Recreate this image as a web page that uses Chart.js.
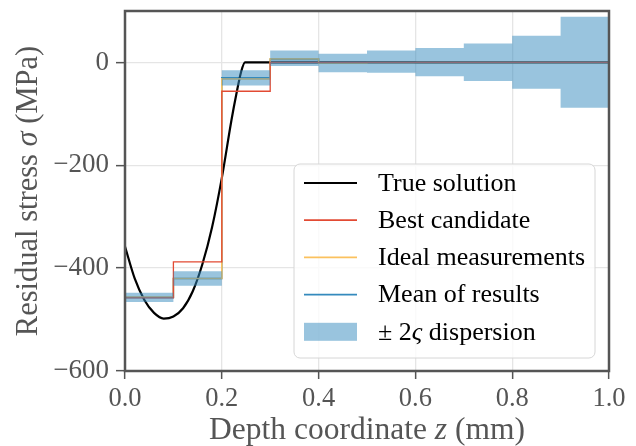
<!DOCTYPE html>
<html>
<head>
<meta charset="utf-8">
<script src="https://cdn.jsdelivr.net/npm/chart.js@4.4.0/dist/chart.umd.min.js"></script>
<style>
    html, body { margin: 0; padding: 0; background: #fff; }
</style>
</head>
<body>
<canvas id="stressChart" width="636" height="446"></canvas>
<script>
// --- data ---
const layerEdges = [0, 0.1, 0.2, 0.3, 0.4, 0.5, 0.6, 0.7, 0.8, 0.9, 1.0];
const bestCandidate = [-458, -388, -56, 0, 0, 0, 0, 0, 0, 0];
const idealMeasurements = [-456, -420, -32, 7, -1, 0, 0, 0, 0, 0];
const meanResults = [-457, -420, -30, 6, -1, 1, 0, 0, 0, 0];
const dispersionUpper = [-448, -406, -15, 23, 17, 23, 28, 37, 52, 89];
const dispersionLower = [-466, -434, -45, -7, -19, -20, -27, -36, -51, -88];

const trueDepth = [0, 0.02, 0.04, 0.06, 0.08, 0.10, 0.12, 0.14, 0.16, 0.18, 0.20, 0.22, 0.23, 0.24, 0.248, 1.0];
const trueStress = [-358, -420, -462, -487, -498, -494, -478, -445, -392, -320, -225, -112, -62, -18, 0, 0];

const xTicks = [0, 0.2, 0.4, 0.6, 0.8, 1.0];
const yTicks = [-600, -400, -200, 0];

const SERIF = '"Liberation Serif", "DejaVu Serif", serif';
const AXIS_GREY = '#555555';

// stepped series: one value per layer, last value repeated at the right edge
function steps(values) {
    const vals = values.concat([values[values.length - 1]]);
    return layerEdges.map((z, i) => ({ x: z, y: vals[i] }));
}

const frame = {
    id: 'frame',
    afterDraw(chart) {
        const { ctx, chartArea: a } = chart;
        ctx.save();
        ctx.strokeStyle = AXIS_GREY;
        ctx.lineWidth = 2.5;
        ctx.strokeRect(a.left, a.top, a.right - a.left, a.bottom - a.top);
        ctx.restore();
    }
};

// text made of plain and italic pieces; align 'center' or 'left'
function drawParts(ctx, parts, x, y, size, align) {
    let total = 0;
    parts.forEach(p => {
        ctx.font = (p.italic ? 'italic ' : '') + size + 'px ' + SERIF;
        p.w = ctx.measureText(p.t).width;
        total += p.w;
    });
    let cx = align === 'left' ? x : x - total / 2;
    parts.forEach(p => {
        ctx.font = (p.italic ? 'italic ' : '') + size + 'px ' + SERIF;
        ctx.fillText(p.t, cx, y);
        cx += p.w;
    });
}

const axisTitles = {
    id: 'axisTitles',
    afterDraw(chart) {
        const { ctx, chartArea: a } = chart;
        ctx.save();
        ctx.fillStyle = AXIS_GREY;
        ctx.textBaseline = 'alphabetic';
        drawParts(ctx, [
            { t: 'Depth coordinate ' }, { t: 'z', italic: true }, { t: ' (mm)' }
        ], (a.left + a.right) / 2, 439, 31.5, 'center');
        ctx.translate(37, (a.top + a.bottom) / 2);
        ctx.rotate(-Math.PI / 2);
        drawParts(ctx, [
            { t: 'Residual stress ' }, { t: 'σ', italic: true }, { t: ' (MPa)' }
        ], 0, 0, 30.5, 'center');
        ctx.restore();
    }
};

const boxLegend = {
    id: 'boxLegend',
    afterDraw(chart) {
        const { ctx } = chart;
        const items = chart.data.datasets.filter(d => d.legendParts);
        const x0 = 294, y0 = 164, w = 301, h = 194, r = 6;
        ctx.save();
        ctx.beginPath();
        ctx.roundRect(x0, y0, w, h, r);
        ctx.fillStyle = 'rgba(255,255,255,0.8)';
        ctx.fill();
        ctx.strokeStyle = '#d6d6d6';
        ctx.lineWidth = 1;
        ctx.stroke();
        ctx.textBaseline = 'middle';
        items.sort((p, q) => p.legendRank - q.legendRank).forEach((d, i) => {
            const cy = 183 + i * 37.2;
            if (d.legendPatch) {
                ctx.fillStyle = d.legendPatch;
                ctx.fillRect(304, cy - 9, 53, 18);
            } else {
                ctx.strokeStyle = d.borderColor;
                ctx.lineWidth = 1.8;
                ctx.beginPath();
                ctx.moveTo(304, cy);
                ctx.lineTo(357, cy);
                ctx.stroke();
            }
            ctx.fillStyle = '#000';
            drawParts(ctx, d.legendParts, 378, cy + 1, 26, 'left');
        });
        ctx.restore();
    }
};

new Chart(document.getElementById('stressChart'), {
    type: 'line',
    data: {
        datasets: [
            {
                label: 'True solution', legendRank: 0,
                legendParts: [{ t: 'True solution' }],
                data: trueDepth.map((z, i) => ({ x: z, y: trueStress[i] })),
                borderColor: '#000000', borderWidth: 2.2, pointRadius: 0,
                cubicInterpolationMode: 'monotone', order: 5
            },
            {
                label: 'Best candidate', legendRank: 1,
                legendParts: [{ t: 'Best candidate' }],
                data: steps(bestCandidate),
                borderColor: '#E24A33', borderWidth: 1.3, pointRadius: 0,
                stepped: 'before', order: 3
            },
            {
                label: 'Ideal measurements', legendRank: 2,
                legendParts: [{ t: 'Ideal measurements' }],
                data: steps(idealMeasurements),
                borderColor: '#FBC15E', borderWidth: 1.6, pointRadius: 0,
                stepped: 'before', order: 4
            },
            {
                label: 'Mean of results', legendRank: 3,
                legendParts: [{ t: 'Mean of results' }],
                data: steps(meanResults),
                borderColor: '#348ABD', borderWidth: 1.6, pointRadius: 0,
                stepped: 'before', order: 6
            },
            {
                label: '± 2ς dispersion', legendRank: 4,
                legendParts: [{ t: '± 2' }, { t: 'ς', italic: true }, { t: ' dispersion' }],
                legendPatch: 'rgba(52,138,189,0.5)',
                data: steps(dispersionUpper),
                borderWidth: 0, borderColor: 'rgba(0,0,0,0)', pointRadius: 0,
                stepped: 'before', fill: '+1',
                backgroundColor: 'rgba(52,138,189,0.5)', order: 1
            },
            {
                label: 'lower',
                data: steps(dispersionLower),
                borderWidth: 0, borderColor: 'rgba(0,0,0,0)', pointRadius: 0,
                stepped: 'before', fill: false, order: 2
            }
        ]
    },
    options: {
        responsive: false,
        animation: false,
        layout: { padding: { top: 11, right: 27, left: 0, bottom: 0 } },
        plugins: {
            legend: { display: false },
            tooltip: { enabled: false }
        },
        scales: {
            x: {
                type: 'linear', min: 0, max: 1,
                afterFit: s => { s.height = 75; s.paddingLeft = 0; s.paddingRight = 0; },
                afterBuildTicks: s => { s.ticks = xTicks.map(v => ({ value: v })); },
                ticks: {
                    color: AXIS_GREY, padding: 4,
                    font: { family: SERIF, size: 26.5 },
                    callback: v => Number(v).toFixed(1)
                },
                grid: { color: '#e5e5e5', lineWidth: 1.3, tickColor: AXIS_GREY, tickLength: 8, tickWidth: 1.5 },
                border: { display: false }
            },
            y: {
                type: 'linear', min: -600, max: 100,
                afterFit: s => { s.width = 125; s.paddingTop = 0; s.paddingBottom = 0; },
                afterBuildTicks: s => { s.ticks = yTicks.map(v => ({ value: v })); },
                ticks: {
                    color: AXIS_GREY, padding: 7,
                    font: { family: SERIF, size: 27 },
                    callback: v => v < 0 ? '\u2212' + Math.abs(v) : String(v)
                },
                grid: { color: '#e5e5e5', lineWidth: 1.3, tickColor: AXIS_GREY, tickLength: 9, tickWidth: 1.5 },
                border: { display: false }
            }
        }
    },
    plugins: [frame, axisTitles, boxLegend]
});
</script>
</body>
</html>
